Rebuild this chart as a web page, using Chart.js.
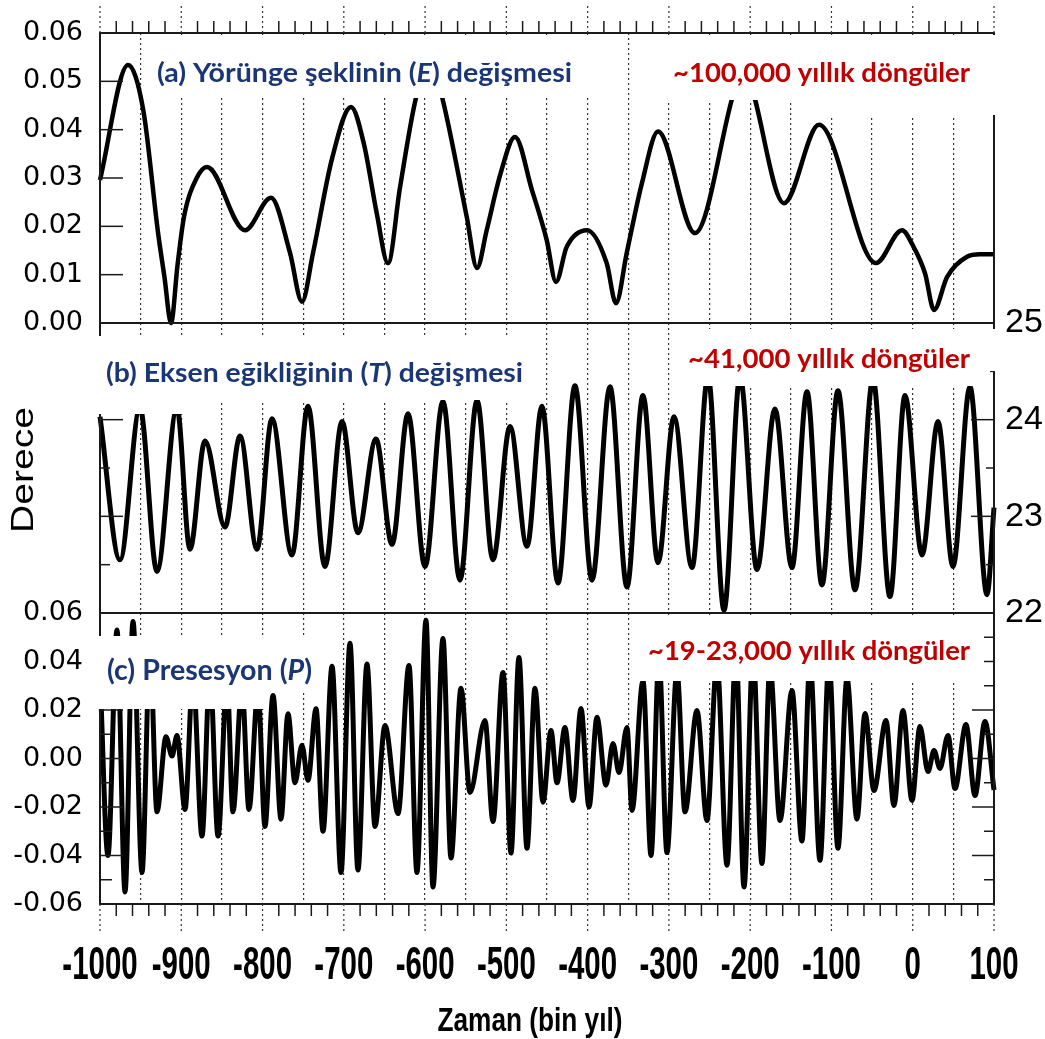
<!DOCTYPE html>
<html>
<head>
<meta charset="utf-8">
<title>Yörünge döngüleri</title>
<script src="https://cdn.jsdelivr.net/npm/chart.js@4.4.0/dist/chart.umd.min.js"></script>
<style>
  html, body { margin: 0; padding: 0; background: #fff; }
  #wrap { position: relative; width: 1045px; height: 1039px; }
  #wrap canvas { position: absolute; left: 0; top: 0; }
</style>
</head>
<body>
<div id="wrap">
  <canvas id="ecc" width="1045" height="1039"></canvas>
  <canvas id="obl" width="1045" height="1039"></canvas>
  <canvas id="pre" width="1045" height="1039"></canvas>
</div>
<script>
// time axis (bin yıl)
var timeTicks = [-1000, -900, -800, -700, -600, -500, -400, -300, -200, -100, 0, 100];
var gridYears = [-950, -900, -850, -800, -750, -700, -650, -600, -550, -500, -450, -400, -350,
                 -300, -250, -200, -150, -100, -50, 0, 50];
var minorYears = [-980, -960, -940, -920, -880, -860, -840, -820, -780, -760, -740, -720,
                  -680, -660, -640, -620, -580, -560, -540, -520, -480, -460, -440, -420,
                  -380, -360, -340, -320, -280, -260, -240, -220, -180, -160, -140, -120,
                  -80, -60, -40, -20, 20, 40, 60, 80];

// (a) eccentricity
var eccTicks = [0, 0.01, 0.02, 0.03, 0.04, 0.05, 0.06];
var eccYears = [-1000, -965.5, -946.7, -928.6, -920.6, -912.6, -904.6, -896.6, -881.0, -868.3,
                -821.6, -789.6, -766.2, -751.5, -737.9, -714.5, -691.2, -675.2, -659.6, -645.6,
                -630.9, -612.0, -594.0, -578.0, -548.8, -536.1, -524.2, -507.0, -489.4, -468.5,
                -450.4, -438.9, -425.9, -400.8, -376.6, -365.1, -351.9, -333.1, -313.4, -267.9,
                -207.6, -158.4, -115.3, -45.2, -13.2, 0.3, 15.1, 26.2, 42.2, 66.8,
                82.8, 100];
var eccValues = [0.0296, 0.0534, 0.044, 0.0187, 0.0094, 0.0, 0.012, 0.022, 0.030, 0.0323,
                 0.0192, 0.0259, 0.0145, 0.0044, 0.0145, 0.034, 0.0447, 0.037, 0.0228, 0.0124,
                 0.028, 0.046, 0.055, 0.046, 0.022, 0.0114, 0.0192, 0.031, 0.0385, 0.0275,
                 0.0172, 0.0085, 0.0157, 0.0192, 0.0124, 0.0041, 0.0145, 0.029, 0.0396, 0.0186,
                 0.0513, 0.0248, 0.0410, 0.0124, 0.0192, 0.016, 0.0103, 0.0027, 0.0095, 0.0137,
                 0.0142, 0.0142];

// (b) obliquity, degrees
var oblTicks = [22, 23, 24, 25];
var oblMinor = [22.5, 23.5, 24.5];
var oblYears = [-1000, -975.4, -950.8, -929.9, -905.3, -889.3, -870.8, -846.2, -827.7, -806.8,
                -788.4, -763.8, -744.1, -723.2, -702.2, -682.6, -660.4, -640.7, -621.0, -600.1,
                -578.0, -557.1, -536.1, -516.5, -495.5, -474.6, -456.2, -436.5, -415.6, -394.6,
                -372.5, -351.6, -331.9, -313.4, -293.7, -271.6, -251.9, -232.2, -212.5, -191.6,
                -169.5, -148.6, -130.1, -111.7, -92.0, -71.0, -48.9, -28.0, -9.5, 11.4,
                31.1, 49.5, 70.4, 91.4, 100];
var oblValues = [24.03, 22.55, 24.12, 22.43, 24.12, 22.66, 23.78, 22.89, 23.83, 22.66,
                 24.01, 22.60, 24.14, 22.48, 23.98, 22.83, 23.80, 22.71, 24.06, 22.48,
                 24.19, 22.34, 24.20, 22.55, 23.93, 22.69, 24.14, 22.31, 24.35, 22.34,
                 24.34, 22.27, 24.25, 22.52, 24.03, 22.47, 24.45, 22.03, 24.45, 22.45,
                 24.11, 22.47, 24.29, 22.29, 24.30, 22.24, 24.42, 22.17, 24.25, 22.60,
                 23.98, 22.48, 24.34, 22.19, 23.09];

// (c) precession index
var preTicks = [-0.06, -0.04, -0.02, 0, 0.02, 0.04, 0.06];
var preMinor = [-0.05, -0.03, -0.01, 0.01, 0.03, 0.05];
var preYears = [-1000, -990.2, -979.1, -969.2, -959.4, -948.3, -938.5, -929.9, -918.8, -911.4,
                -905.3, -895.4, -885.6, -874.5, -864.7, -854.8, -843.7, -836.4, -825.3, -816.7,
                -805.6, -797.0, -787.1, -777.3, -768.7, -760.1, -751.5, -744.1, -734.2, -725.6,
                -714.5, -703.5, -692.4, -682.6, -671.5, -661.6, -649.3, -633.3, -619.8, -610.0,
                -598.9, -590.3, -578.0, -568.1, -555.8, -544.8, -526.3, -516.5, -504.1, -494.3,
                -484.5, -474.6, -464.8, -454.9, -445.1, -437.7, -427.9, -418.0, -408.2, -398.3,
                -388.5, -377.4, -368.8, -361.4, -351.6, -345.4, -331.9, -322.0, -312.2, -302.4,
                -290.1, -280.2, -265.5, -253.2, -240.9, -228.5, -217.5, -207.6, -196.5, -185.5,
                -175.6, -163.3, -148.6, -136.3, -126.4, -114.1, -103.0, -92.0, -80.9, -68.6,
                -58.7, -47.7, -32.9, -23.1, -12.0, -0.9, 8.9, 18.8, 26.2, 33.5,
                43.4, 52.0, 65.5, 76.6, 88.9, 100];
var preValues = [0.035, -0.040, 0.053, -0.055, 0.0565, -0.047, 0.045, -0.022, 0.009, 0.001,
                 0.0095, -0.021, 0.034, -0.032, 0.036, -0.032, 0.032, -0.022, 0.030, -0.021,
                 0.028, -0.028, 0.026, -0.025, 0.0185, -0.010, 0.0055, -0.009, 0.0205, -0.030,
                 0.038, -0.047, 0.0475, -0.046, 0.039, -0.028, 0.0136, -0.0227, 0.0384, -0.047,
                 0.057, -0.053, 0.0495, -0.041, 0.029, -0.014, 0.0157, -0.026, 0.0355, -0.039,
                 0.0417, -0.037, 0.029, -0.018, 0.0115, -0.010, 0.0128, -0.0173, 0.0206, -0.020,
                 0.017, -0.011, 0.0062, -0.0058, 0.0128, -0.0214, 0.032, -0.040, 0.042, -0.0388,
                 0.036, -0.022, 0.0198, -0.0256, 0.040, -0.044, 0.045, -0.053, 0.044, -0.0433,
                 0.038, -0.0256, 0.028, -0.034, 0.040, -0.042, 0.040, -0.037, 0.033, -0.025,
                 0.0186, -0.0132, 0.0157, -0.0194, 0.0198, -0.0173, 0.0132, -0.0054, 0.0033, -0.0041,
                 0.0095, -0.0124, 0.014, -0.0153, 0.0153, -0.013];

var FRAME = '#1a1a1a';
var GRID = '#333333';
var BLUE = '#1b3677';
var RED = '#c00000';

function series(xs, ys) {
    return xs.map(function (x, i) { return { x: x, y: ys[i] }; });
}

function ticksFrom(list) {
    return function (scale) { scale.ticks = list.map(function (v) { return { value: v }; }); };
}

// text squeezed/stretched to a given width, parts = [[text, italic], ...]
function fitText(ctx, c) {
    var fam = c.family || 'Lato', wt = c.weight || 'bold';
    var fontOf = function (p) { return (p[1] ? 'italic ' : '') + wt + ' ' + c.size + 'px ' + fam; };
    var widths = c.parts.map(function (p) { ctx.font = fontOf(p); return ctx.measureText(p[0]).width; });
    var total = widths.reduce(function (s, w) { return s + w; }, 0);
    ctx.save();
    ctx.translate(c.x, c.y);
    if (c.rotate) ctx.rotate(c.rotate);
    ctx.scale(c.width / total, 1);
    ctx.fillStyle = c.color;
    ctx.textAlign = 'left';
    ctx.textBaseline = 'alphabetic';
    var cx = c.align === 'center' ? -total / 2 : 0;
    c.parts.forEach(function (p, i) {
        ctx.font = fontOf(p);
        ctx.fillText(p[0], cx, 0);
        cx += widths[i];
    });
    ctx.restore();
}

function hTick(ctx, x0, x1, y) {
    ctx.beginPath(); ctx.moveTo(x0, y); ctx.lineTo(x1, y); ctx.stroke();
}

function vTick(ctx, x, y0, y1) {
    ctx.beginPath(); ctx.moveTo(x, y0); ctx.lineTo(x, y1); ctx.stroke();
}

function decor(opts) {
    return {
        id: 'decor',
        afterDraw: function (chart) {
            var ctx = chart.ctx, a = chart.chartArea;
            var xs = chart.scales.x, ys = chart.scales.y;
            ctx.save();
            ctx.setLineDash([]);
            ctx.strokeStyle = FRAME;
            ctx.lineWidth = 2;
            ctx.strokeRect(a.left, a.top, a.right - a.left, a.bottom - a.top);

            ctx.lineWidth = 1.5;
            (opts.leftTicks || []).forEach(function (t) {
                hTick(ctx, a.left, a.left + t[1], ys.getPixelForValue(t[0]));
            });
            (opts.rightTicks || []).forEach(function (t) {
                hTick(ctx, a.right - t[1], a.right, ys.getPixelForValue(t[0]));
            });

            if (opts.timeEdge) {
                var edge = opts.timeEdge === 'top' ? a.top : a.bottom;
                var dir = opts.timeEdge === 'top' ? -1 : 1;
                minorYears.forEach(function (v) {
                    vTick(ctx, xs.getPixelForValue(v), edge, edge + dir * 12);
                });
                ctx.setLineDash([2, 3]);
                ctx.strokeStyle = GRID;
                ctx.lineWidth = 1.2;
                timeTicks.forEach(function (v) {
                    vTick(ctx, xs.getPixelForValue(v), edge, edge + dir * 28);
                });
                ctx.setLineDash([]);
            }

            ctx.fillStyle = '#fff';
            (opts.boxes || []).forEach(function (b) { ctx.fillRect(b[0], b[1], b[2], b[3]); });

            (opts.captions || []).forEach(function (c) { fitText(ctx, c); });
            if (opts.extra) opts.extra(chart, ctx);
            ctx.restore();
        }
    };
}

function timeScale() {
    return {
        type: 'linear', min: -1000, max: 100,
        afterBuildTicks: ticksFrom(gridYears),
        afterFit: function (s) { s.height = 0; },
        ticks: { display: false },
        grid: { drawTicks: false, color: GRID, lineWidth: 1.2 },
        border: { display: false, dash: [2, 3] }
    };
}

function lineSet(xs, ys, width) {
    return {
        data: series(xs, ys),
        borderColor: '#000',
        borderWidth: width,
        pointRadius: 0,
        fill: false,
        cubicInterpolationMode: 'monotone',
        borderJoinStyle: 'round',
        clip: false
    };
}

function options(pad, yScale) {
    return {
        responsive: false,
        animation: false,
        devicePixelRatio: 1,
        events: [],
        layout: { padding: pad },
        plugins: { legend: { display: false }, tooltip: { enabled: false } },
        scales: { x: timeScale(), y: yScale }
    };
}

var leftLabelFont = { family: 'DejaVu Sans', size: 27 };

// (a) Yörünge şekli
new Chart(document.getElementById('ecc'), {
    type: 'line',
    data: { datasets: [lineSet(eccYears, eccValues, 4.5)] },
    options: options({ top: 33, bottom: 716, left: 0, right: 51 }, {
        min: 0, max: 0.06,
        afterBuildTicks: ticksFrom(eccTicks),
        afterFit: function (s) { s.width = 100; },
        grid: { display: false },
        border: { display: false },
        ticks: { color: '#000', padding: 9, font: leftLabelFont,
                 callback: function (v) { return v.toFixed(2); } }
    }),
    plugins: [decor({
        leftTicks: eccTicks.slice(1, -1).map(function (v) { return [v, 23]; }),
        timeEdge: 'top',
        boxes: [[150, 35, 462, 63], [645, 35, 355, 65], [805, 35, 195, 80]],
        captions: [
            { parts: [['(a) Yörünge şeklinin (', false], ['E', true], [') değişmesi', false]],
              x: 157, y: 82, width: 415, size: 27, color: BLUE },
            { parts: [['~100,000 yıllık döngüler', false]],
              x: 673, y: 82, width: 297, size: 27, color: RED }
        ]
    })]
});

// (b) Eksen eğikliği
new Chart(document.getElementById('obl'), {
    type: 'line',
    data: { datasets: [lineSet(oblYears, oblValues, 5)] },
    options: options({ top: 323, bottom: 426, left: 100, right: 0 }, {
        position: 'right',
        min: 22, max: 25,
        afterBuildTicks: ticksFrom(oblTicks),
        afterFit: function (s) { s.width = 51; },
        grid: { display: false },
        border: { display: false },
        ticks: { color: '#000', padding: 3, font: { family: 'Liberation Sans', size: 34 } }
    }),
    plugins: [decor({
        leftTicks: oblTicks.slice(1, -1).map(function (v) { return [v, 23]; })
            .concat(oblMinor.map(function (v) { return [v, 10]; })),
        rightTicks: oblTicks.slice(1, -1).map(function (v) { return [v, 23]; })
            .concat(oblMinor.map(function (v) { return [v, 8]; })),
        boxes: [[92, 336, 438, 64], [92, 336, 108, 78], [685, 329, 315, 42], [685, 329, 305, 57]],
        captions: [
            { parts: [['(b) Eksen eğikliğinin (', false], ['T', true], [') değişmesi', false]],
              x: 106, y: 382, width: 417, size: 27, color: BLUE },
            { parts: [['~41,000 yıllık döngüler', false]],
              x: 688, y: 368, width: 282, size: 27, color: RED },
            { parts: [['Derece', false]], x: 33, y: 470, width: 126, size: 32,
              family: '"Liberation Sans"', weight: 'normal', color: '#000',
              rotate: -Math.PI / 2, align: 'center' }
        ]
    })]
});

// (c) Presesyon
new Chart(document.getElementById('pre'), {
    type: 'line',
    data: { datasets: [lineSet(preYears, preValues, 5)] },
    options: options({ top: 613, bottom: 135, left: 0, right: 51 }, {
        min: -0.06, max: 0.06,
        afterBuildTicks: ticksFrom(preTicks),
        afterFit: function (s) { s.width = 100; },
        grid: { display: false },
        border: { display: false },
        ticks: { color: '#000', padding: 9, font: leftLabelFont,
                 callback: function (v) { return v.toFixed(2); } }
    }),
    plugins: [decor({
        leftTicks: preTicks.slice(1, -1).map(function (v) { return [v, 23]; })
            .concat(preMinor.map(function (v) { return [v, 12]; })),
        rightTicks: preTicks.slice(1, -1).map(function (v) { return [v, 22]; })
            .concat(preMinor.map(function (v) { return [v, 10]; })),
        timeEdge: 'bottom',
        boxes: [[95, 636, 170, 73], [265, 636, 53, 54], [640, 616, 344, 65]],
        captions: [
            { parts: [['(c) Presesyon (', false], ['P', true], [')', false]],
              x: 107, y: 680, width: 205, size: 29, color: BLUE },
            { parts: [['~19-23,000 yıllık döngüler', false]],
              x: 648, y: 660, width: 322, size: 27, color: RED },
            { parts: [['Zaman (bin yıl)', false]], x: 530, y: 1031, width: 185, size: 34,
              family: '"Liberation Sans"', weight: 'bold', color: '#000', align: 'center' }
        ],
        extra: function (chart, ctx) {
            // condensed time labels under the bottom axis
            var xs = chart.scales.x;
            ctx.fillStyle = '#000';
            ctx.font = 'bold 46px "Liberation Sans"';
            ctx.textAlign = 'center';
            ctx.textBaseline = 'alphabetic';
            timeTicks.forEach(function (v) {
                ctx.save();
                ctx.translate(xs.getPixelForValue(v), 979);
                ctx.scale(0.64, 1);
                ctx.fillText(String(v), 0, 0);
                ctx.restore();
            });
        }
    })]
});
</script>
</body>
</html>
